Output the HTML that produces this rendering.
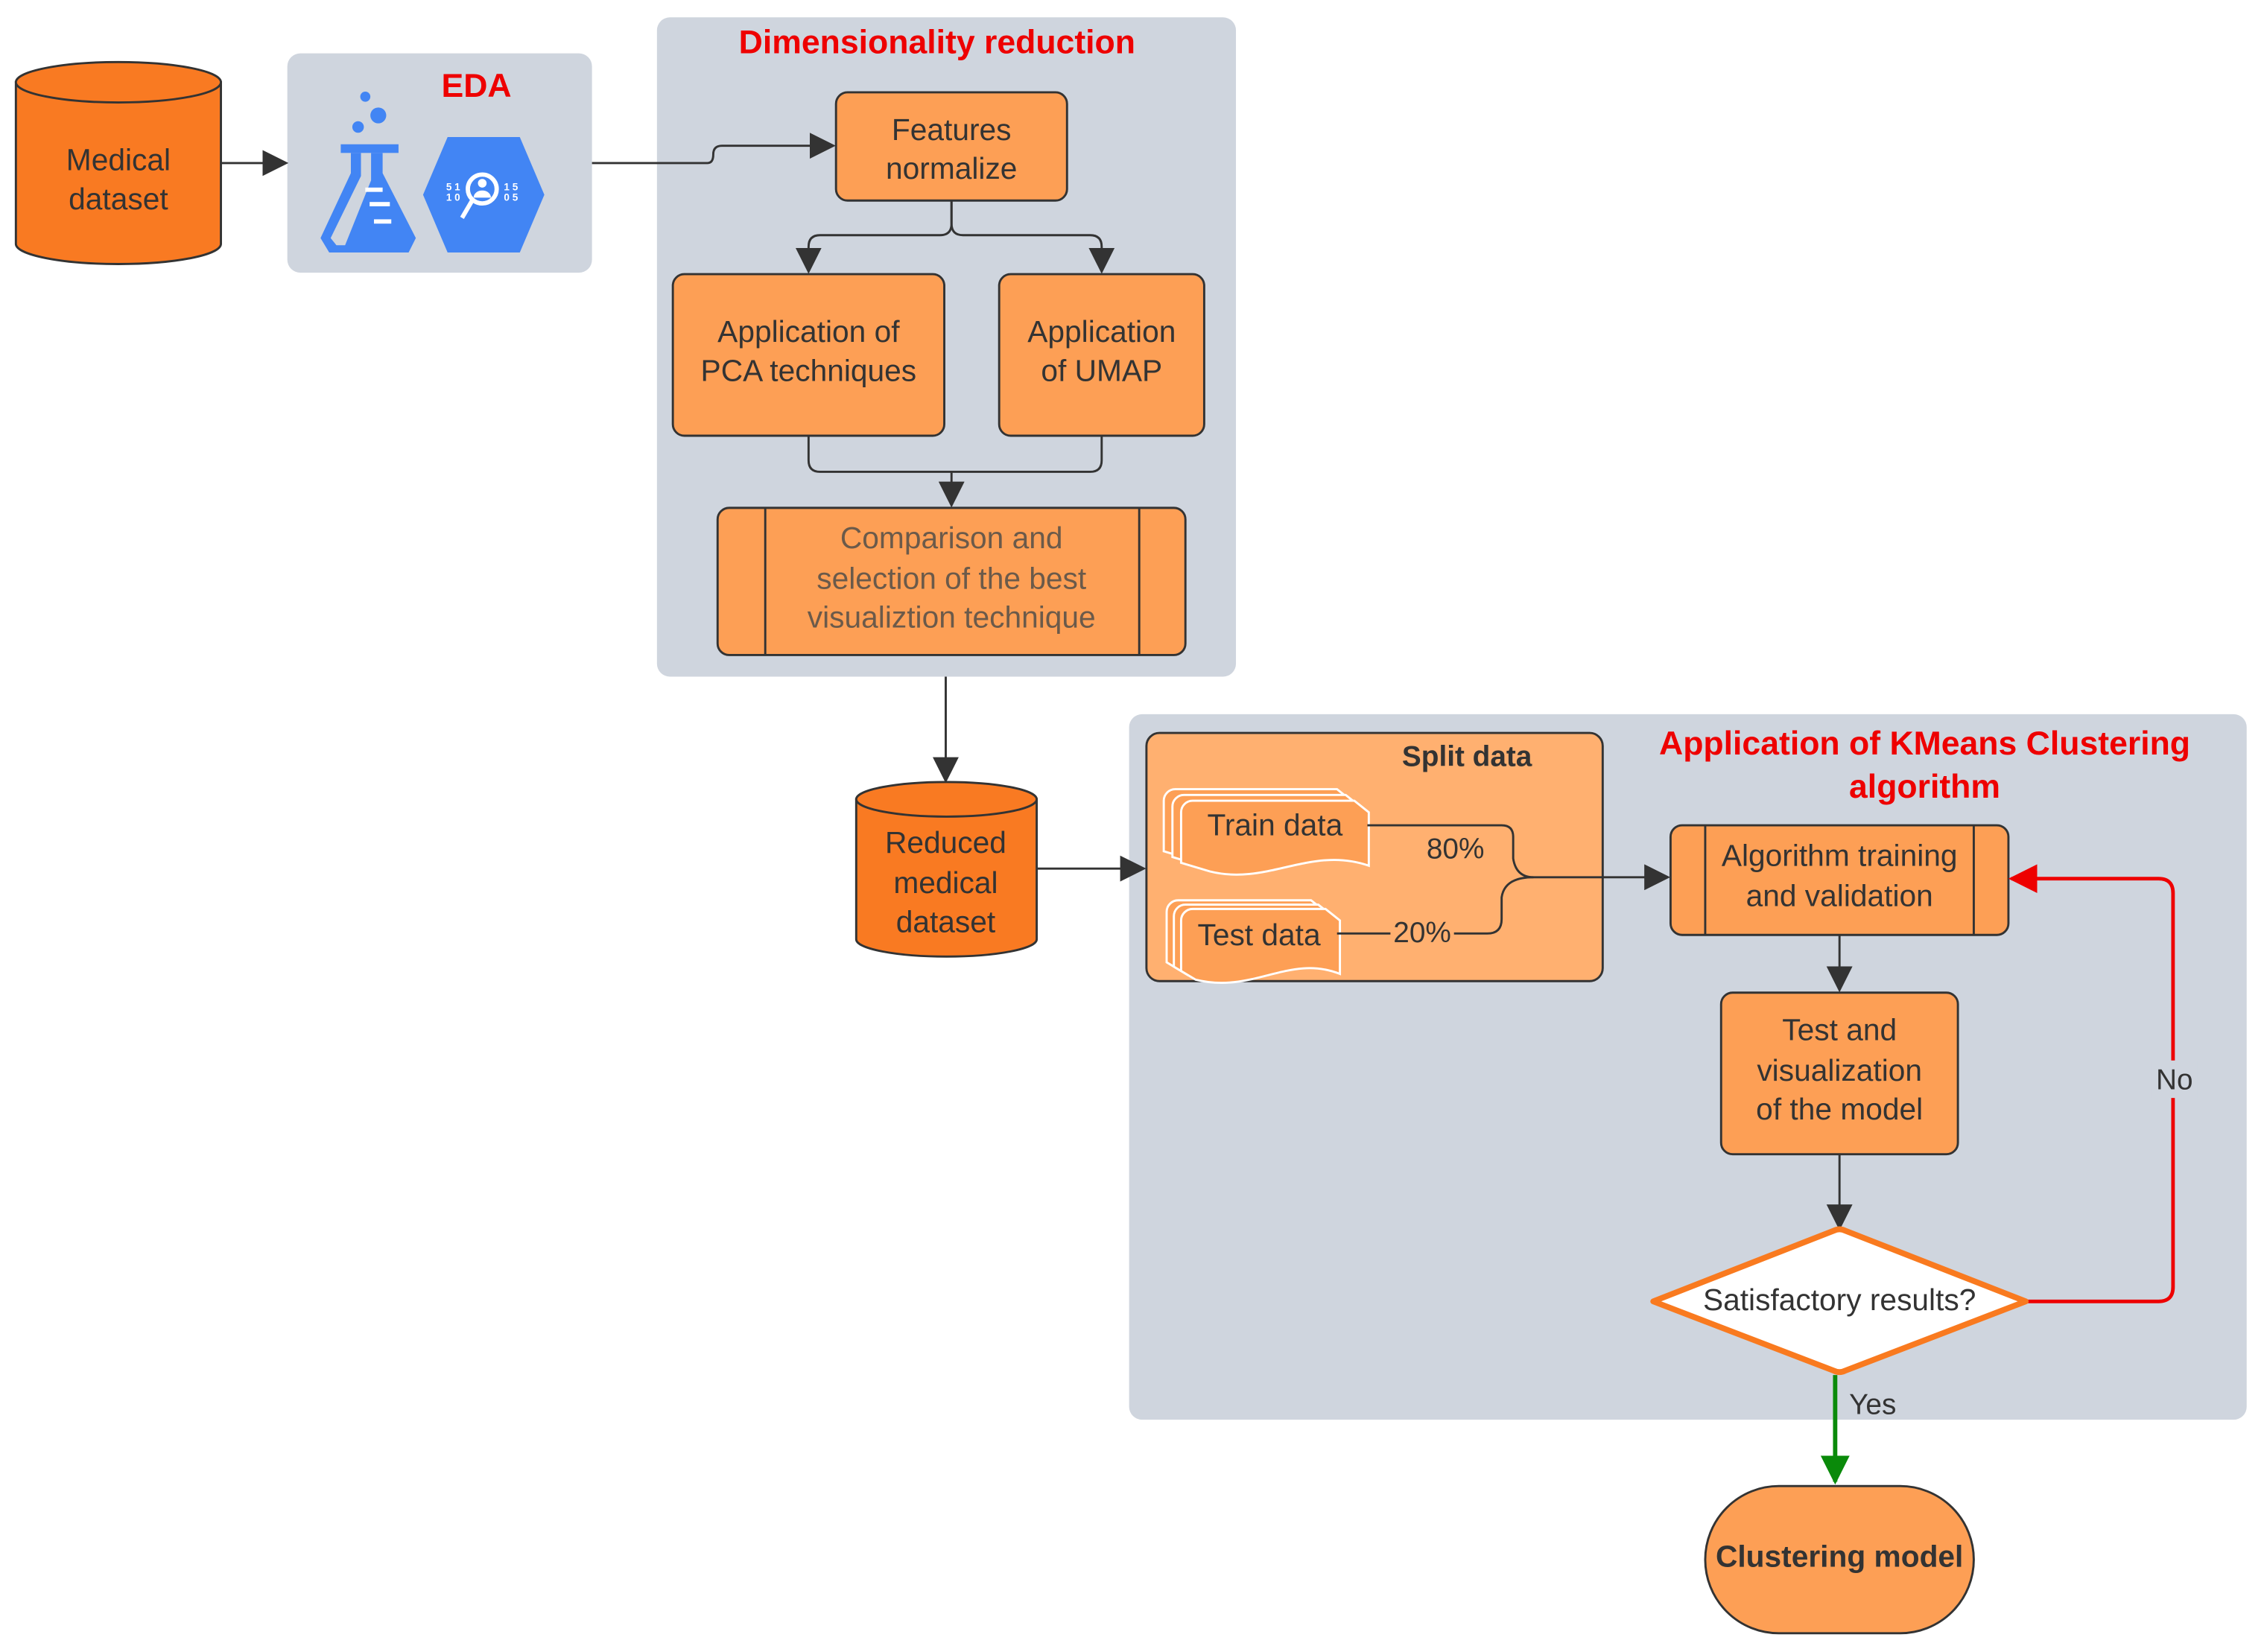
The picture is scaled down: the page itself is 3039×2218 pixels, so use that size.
<!DOCTYPE html>
<html><head><meta charset="utf-8"><style>html,body{margin:0;padding:0;background:#fff}svg{display:block}</style></head>
<body>
<svg width="3039" height="2218" viewBox="0 0 1568 1145" preserveAspectRatio="none" xmlns="http://www.w3.org/2000/svg" font-family="Liberation Sans, sans-serif">
<defs>
<marker id="a" viewBox="0 0 10 10" refX="9" refY="5" markerWidth="6" markerHeight="6" markerUnits="userSpaceOnUse" orient="auto"><path d="M0,0 L10,5 L0,10z" fill="#333"/></marker>
<marker id="ab" viewBox="0 0 10 10" refX="9" refY="5" markerWidth="18" markerHeight="18" markerUnits="userSpaceOnUse" orient="auto"><path d="M0,0 L10,5 L0,10z" fill="#333"/></marker>
<marker id="ar" viewBox="0 0 10 10" refX="9" refY="5" markerWidth="20" markerHeight="20" markerUnits="userSpaceOnUse" orient="auto"><path d="M0,0 L10,5 L0,10z" fill="#e00"/></marker>
<marker id="ag" viewBox="0 0 10 10" refX="9" refY="5" markerWidth="20" markerHeight="20" markerUnits="userSpaceOnUse" orient="auto"><path d="M0,0 L10,5 L0,10z" fill="#0a8a0a"/></marker>
</defs>
<g fill="#cfd5de">
<rect x="199" y="37" width="211" height="152" rx="9"/>
<rect x="455" y="12" width="401" height="457" rx="9"/>
<rect x="782" y="495" width="774" height="489" rx="9"/>
</g>
<text x="330" y="67" font-size="23" font-weight="bold" fill="#e00" text-anchor="middle">EDA</text>
<text x="649" y="37" font-size="23" font-weight="bold" fill="#e00" text-anchor="middle">Dimensionality reduction</text>
<text x="1333" y="523" font-size="23" font-weight="bold" fill="#e00" text-anchor="middle">Application of KMeans Clustering</text>
<text x="1333" y="553" font-size="23" font-weight="bold" fill="#e00" text-anchor="middle">algorithm</text>
<!-- icons -->
<g fill="#4285f4">
<circle cx="253" cy="67" r="3.5"/><circle cx="262" cy="80" r="5.5"/><circle cx="248" cy="88" r="4"/>
<rect x="236" y="100" width="40" height="6"/>
<path d="M243,106 h22 v14 l23,45 l-5,10 h-55 l-6,-10 l21,-45z M250,106 v16 l-21,43 l4,5 h6 l18,-45 v-19z" fill-rule="evenodd"/>
<path d="M310,95 h50 l17,40 l-17,40 h-50 l-17,-40z"/>
</g>
<g fill="#fff">
<rect x="253" y="130" width="12" height="3"/><rect x="256" y="140" width="14" height="3"/><rect x="259" y="152" width="12" height="3"/>
<circle cx="334" cy="131" r="10" fill="none" stroke="#fff" stroke-width="3"/><line x1="327" y1="139" x2="320" y2="151" stroke="#fff" stroke-width="3"/>
<circle cx="334" cy="127" r="3"/><path d="M328,137 a6,5 0 0 1 12,0z"/>
<text x="309" y="132" font-size="7" font-weight="bold">5 1</text><text x="309" y="139" font-size="7" font-weight="bold">1 0</text>
<text x="349" y="132" font-size="7" font-weight="bold">1 5</text><text x="349" y="139" font-size="7" font-weight="bold">0 5</text>
</g>
<!-- cylinders -->
<path d="M11,57 v112 a71,14 0 0 0 142,0 v-112z" fill="#f97a22" stroke="#333" stroke-width="1.5"/>
<ellipse cx="82" cy="57" rx="71" ry="14" fill="#f97a22" stroke="#333" stroke-width="1.5"/>
<text x="82" y="118" font-size="21" fill="#333" text-anchor="middle">Medical</text>
<text x="82" y="145" font-size="21" fill="#333" text-anchor="middle">dataset</text>
<path d="M593,554 v97 a62.5,12 0 0 0 125,0 v-97z" fill="#f97a22" stroke="#333" stroke-width="1.5"/>
<ellipse cx="655.5" cy="554" rx="62.5" ry="12" fill="#f97a22" stroke="#333" stroke-width="1.5"/>
<text x="655" y="591" font-size="21" fill="#333" text-anchor="middle">Reduced</text>
<text x="655" y="619" font-size="21" fill="#333" text-anchor="middle">medical</text>
<text x="655" y="646" font-size="21" fill="#333" text-anchor="middle">dataset</text>
<!-- boxes -->
<g fill="#fd9f55" stroke="#333" stroke-width="1.5">
<rect x="579" y="64" width="160" height="75" rx="8"/>
<rect x="466" y="190" width="188" height="112" rx="8"/>
<rect x="692" y="190" width="142" height="112" rx="8"/>
<rect x="497" y="352" width="324" height="102" rx="8"/>
<rect x="1157" y="572" width="234" height="76" rx="8"/>
<rect x="1192" y="688" width="164" height="112" rx="8"/>
<rect x="1181" y="1030" width="186" height="102" rx="51"/>
</g>
<rect x="794" y="508" width="316" height="172" rx="9" fill="#ffb070" stroke="#333" stroke-width="1.5"/>
<g stroke="#333" stroke-width="1.5"><line x1="530" y1="352" x2="530" y2="454"/><line x1="789" y1="352" x2="789" y2="454"/><line x1="1181" y1="572" x2="1181" y2="648"/><line x1="1367" y1="572" x2="1367" y2="648"/></g>
<g font-size="21" fill="#333" text-anchor="middle">
<text x="659" y="97">Features</text><text x="659" y="124">normalize</text>
<text x="560" y="237">Application of</text><text x="560" y="264">PCA techniques</text>
<text x="763" y="237">Application</text><text x="763" y="264">of UMAP</text>
<text x="1274" y="600">Algorithm training</text><text x="1274" y="628">and validation</text>
<text x="1274" y="721">Test and</text><text x="1274" y="749">visualization</text><text x="1274" y="776">of the model</text>
</g>
<g font-size="21" fill="#6b5a4a" text-anchor="middle">
<text x="659" y="380">Comparison and</text><text x="659" y="408">selection of the best</text><text x="659" y="435">visualiztion technique</text>
</g>
<text x="1274" y="1086" font-size="21" font-weight="bold" fill="#333" text-anchor="middle">Clustering model</text>
<text x="1016" y="531" font-size="20" font-weight="bold" fill="#333" text-anchor="middle">Split data</text>
<!-- docs -->
<g fill="#fd9f55" stroke="#fff" stroke-width="1.5">
<path d="M806,590 v-35 a8,8 0 0 1 8,-8 h112 l10,8 v37 c-40,-14 -70,14 -110,4z"/>
<path d="M812,594 v-35 a8,8 0 0 1 8,-8 h112 l10,8 v37 c-40,-14 -70,14 -110,4z"/>
<path d="M818,598 v-35 a8,8 0 0 1 8,-8 h112 l10,8 v37 c-40,-14 -70,14 -110,4z"/>
<path d="M808,667 v-35 a8,8 0 0 1 8,-8 h92 l10,8 v37 c-35,-14 -60,14 -100,4z"/>
<path d="M813,670 v-35 a8,8 0 0 1 8,-8 h92 l10,8 v37 c-35,-14 -60,14 -100,4z"/>
<path d="M818,673 v-35 a8,8 0 0 1 8,-8 h92 l10,8 v37 c-35,-14 -60,14 -100,4z"/>
</g>
<text x="883" y="579" font-size="21" fill="#333" text-anchor="middle">Train data</text>
<text x="872" y="655" font-size="21" fill="#333" text-anchor="middle">Test data</text>
<text x="1008" y="595" font-size="20" fill="#333" text-anchor="middle">80%</text>
<!-- connectors -->
<g fill="none" stroke="#333" stroke-width="1.5">
<line x1="153" y1="113" x2="198" y2="113" marker-end="url(#ab)"/>
<path d="M410,113 H490 Q494,113 494,107 Q494,101 500,101 H577" marker-end="url(#ab)"/>
<path d="M659,139 V155 Q659,163 651,163 H568 Q560,163 560,171 V188" marker-end="url(#ab)"/>
<path d="M659,139 V155 Q659,163 667,163 H755 Q763,163 763,171 V188" marker-end="url(#ab)"/>
<path d="M560,302 V319 Q560,327 568,327 H755 Q763,327 763,319 V302"/>
<line x1="659" y1="327" x2="659" y2="350" marker-end="url(#ab)"/>
<line x1="655" y1="469" x2="655" y2="541" marker-end="url(#ab)"/>
<line x1="718" y1="602" x2="792" y2="602" marker-end="url(#ab)"/>
<path d="M947,572 H1040 Q1048,572 1048,580 V595 Q1050,608 1062,608 H1155" marker-end="url(#ab)"/>
<path d="M926,647 H963 M1007,647 H1030 Q1040,647 1040,637 V622 Q1042,608 1062,608"/>
<line x1="1274" y1="648" x2="1274" y2="686" marker-end="url(#ab)"/>
<line x1="1274" y1="800" x2="1274" y2="851" marker-end="url(#ab)"/>
</g>
<text x="985" y="653" font-size="20" fill="#333" text-anchor="middle">20%</text>
<path d="M1403,902 H1495 Q1505,902 1505,892 V619 Q1505,609 1495,609 H1393" fill="none" stroke="#e00" stroke-width="2.5" marker-end="url(#ar)"/>
<rect x="1490" y="735" width="32" height="26" fill="#cfd5de"/>
<text x="1506" y="755" font-size="20" fill="#333" text-anchor="middle">No</text>
<path d="M1145,902 L1270,853 Q1274,851 1278,853 L1403,902 L1278,950 Q1274,952 1270,950z" fill="#fff" stroke="#f97a1f" stroke-width="4" stroke-linejoin="round"/>
<text x="1274" y="908" font-size="21" fill="#333" text-anchor="middle">Satisfactory results?</text>
<line x1="1271" y1="953" x2="1271" y2="1027" stroke="#0a8a0a" stroke-width="3" marker-end="url(#ag)"/>
<text x="1297" y="980" font-size="20" fill="#333" text-anchor="middle">Yes</text>
</svg>
</body></html>
